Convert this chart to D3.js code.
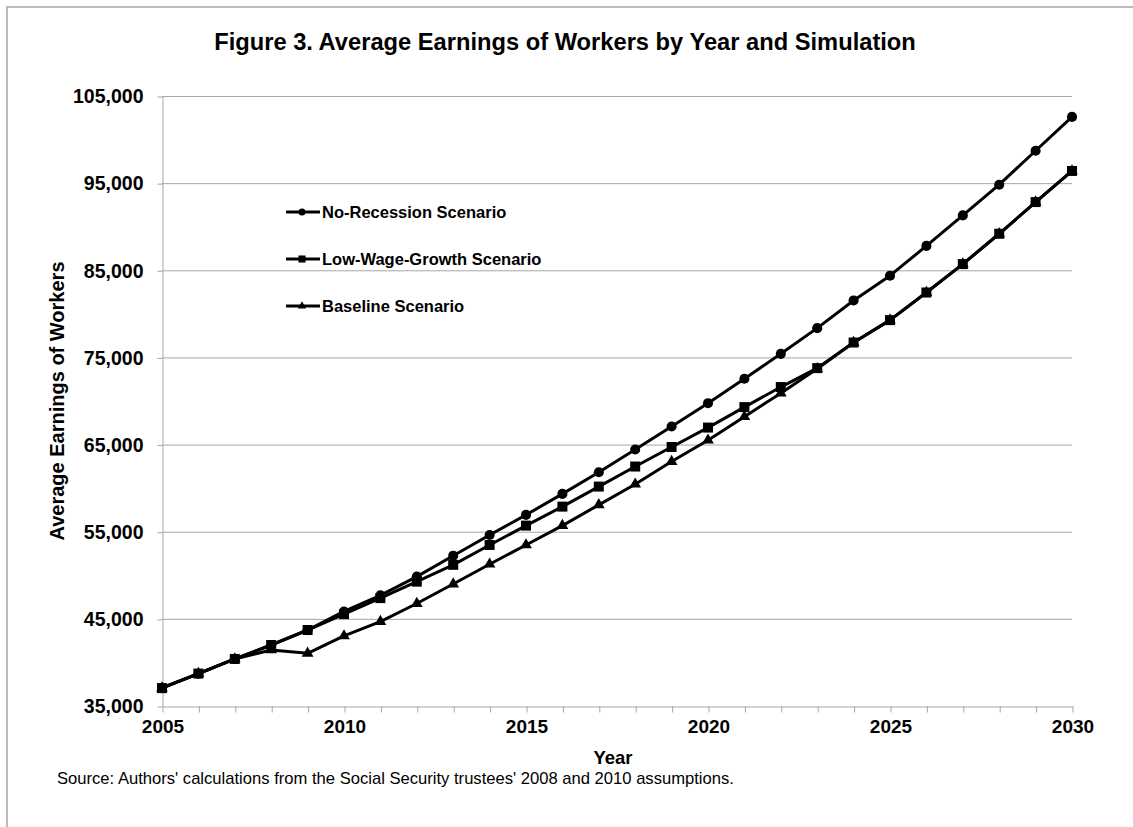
<!DOCTYPE html>
<html><head><meta charset="utf-8">
<script src="https://cdn.jsdelivr.net/npm/d3@7"></script>
<style>body{margin:0;background:#fff}svg{display:block}text{font-family:"Liberation Sans",Arial,sans-serif}</style>
</head><body>
<svg id="c" width="1133" height="827"></svg>
<script>
const years = d3.range(2005, 2031);
const noRecession = [37100,38700,40400,42000,43700,45850,47700,49850,52250,54620,56930,59340,61830,64430,67070,69750,72550,75410,78360,81540,84380,87800,91300,94820,98720,102600];
const lowWage = [37050,38720,40400,42000,43720,45550,47380,49270,51200,53480,55700,57880,60180,62480,64720,66950,69300,71600,73770,76710,79280,82450,85710,89190,92830,96400];
const baseline = [37050,38720,40400,41430,41050,43040,44680,46760,49000,51270,53480,55700,58080,60450,63050,65500,68200,70900,73700,76710,79280,82450,85710,89190,92830,96400];
const yTicks = [35000,45000,55000,65000,75000,85000,95000,105000];
const xTickLabels = [2005,2010,2015,2020,2025,2030];
const seriesNames = ["No-Recession Scenario","Low-Wage-Growth Scenario","Baseline Scenario"];
const seriesData = [noRecession, lowWage, baseline];
const markers = [d3.symbolCircle, d3.symbolSquare, d3.symbolTriangle];
const markerSizes = [80, 100, 60];

const svg = d3.select("#c");
svg.append("rect").attr("x",7).attr("y",7).attr("width",1200).attr("height",900)
  .attr("fill","none").attr("stroke","#a6a6a6").attr("stroke-width",1.5);

const x = d3.scaleLinear().domain([2005,2030]).range([162,1072]);
const y = d3.scaleLinear().domain([35000,105000]).range([706,96]);

// gridlines
svg.append("g").selectAll("line").data(yTicks.slice(1)).join("line")
  .attr("x1",162).attr("x2",1072).attr("y1",d=>y(d)+0.5).attr("y2",d=>y(d)+0.5)
  .attr("stroke","#a6a6a6").attr("stroke-width",1);

// y axis
const yAxis = svg.append("g").attr("transform","translate(162.5,0.5)")
  .call(d3.axisLeft(y).tickValues(yTicks).tickFormat(d3.format(",")).tickSizeOuter(0).tickSizeInner(5).tickPadding(14));
yAxis.select(".domain").attr("stroke","#a6a6a6");
yAxis.selectAll(".tick line").attr("stroke","#a6a6a6");
yAxis.selectAll("text").attr("font-size",19.5).attr("font-weight","bold").attr("fill","#000").attr("font-family","Liberation Sans, Arial, sans-serif");

// x axis
const xAxis = svg.append("g").attr("transform","translate(0.5,706.5)")
  .call(d3.axisBottom(x).tickValues(years).tickFormat(d=>xTickLabels.includes(d)?d:"").tickSizeOuter(0).tickSizeInner(6).tickPadding(7));
xAxis.select(".domain").attr("stroke","#a6a6a6");
xAxis.selectAll(".tick line").attr("stroke","#a6a6a6");
xAxis.selectAll("text").attr("font-size",19).attr("font-weight","bold").attr("fill","#000").attr("font-family","Liberation Sans, Arial, sans-serif");

const line = d3.line().x((d,i)=>x(years[i])).y(d=>y(d));
[2,1,0].forEach(k=>{
  const g = svg.append("g");
  g.append("path").attr("d",line(seriesData[k])).attr("fill","none").attr("stroke","#000").attr("stroke-width",3).attr("stroke-linejoin","round");
  g.selectAll("path.m").data(seriesData[k]).join("path").attr("class","m")
    .attr("transform",(d,i)=>`translate(${x(years[i])},${y(d)})`)
    .attr("d",d3.symbol().type(markers[k]).size(markerSizes[k])).attr("fill","#000");
});

// legend
const legendY = [212,259,306];
seriesNames.forEach((n,k)=>{
  const g = svg.append("g").attr("transform",`translate(286,${legendY[k]})`);
  g.append("line").attr("x1",0).attr("x2",34).attr("y1",0).attr("y2",0).attr("stroke","#000").attr("stroke-width",3);
  g.append("path").attr("transform","translate(16,0)").attr("d",d3.symbol().type(markers[k]).size(markerSizes[k]*0.5)).attr("fill","#000");
  g.append("text").attr("x",36).attr("y",6).attr("font-size",16.5).attr("font-weight","bold").text(n);
});

// titles
svg.append("text").attr("x",565).attr("y",50).attr("text-anchor","middle").attr("font-size",23.7).attr("font-weight","bold")
  .text("Figure 3. Average Earnings of Workers by Year and Simulation");
svg.append("text").attr("x",613).attr("y",764).attr("text-anchor","middle").attr("font-size",18.5).attr("font-weight","bold").text("Year");
svg.append("text").attr("transform","translate(64,401) rotate(-90)").attr("text-anchor","middle").attr("font-size",20).attr("font-weight","bold").text("Average Earnings of Workers");
svg.append("text").attr("x",57).attr("y",784).attr("font-size",16.6).text("Source: Authors' calculations from the Social Security trustees' 2008 and 2010 assumptions.");
</script>
</body></html>
